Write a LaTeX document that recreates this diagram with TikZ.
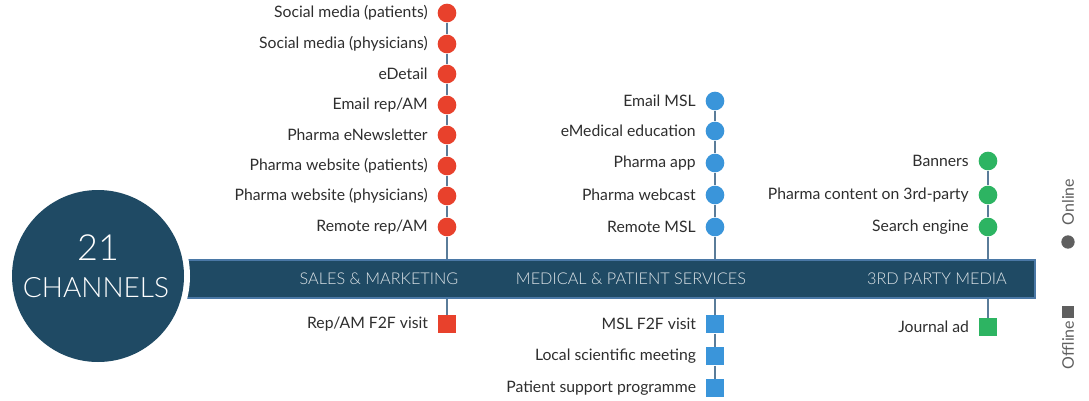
\documentclass[tikz,border=0pt]{standalone}
\usepackage{fontspec}
\setmainfont{Lato}
\newfontfamily\lightfont{Lato Light}
\definecolor{navy}{HTML}{1F4A64}
\definecolor{barline}{HTML}{4A78A6}
\definecolor{stemcol}{HTML}{5A7C99}
\definecolor{chred}{HTML}{E8412C}
\definecolor{chblue}{HTML}{3A95DA}
\definecolor{chgreen}{HTML}{2DB462}
\definecolor{txt}{HTML}{2E2E2E}
\definecolor{legcol}{HTML}{5F5F5F}
\tikzset{every picture/.style={line width=0.75pt}}
\tikzset{
  online/.style={circle, fill=#1, inner sep=0pt, minimum size=14pt},
  offline/.style={rectangle, fill=#1, inner sep=0pt, minimum size=13.5pt},
  chan/.style={font=\fontsize{11.8}{14}\selectfont, text=txt, inner sep=0.75pt},
  stem/.style={stemcol, line width=1.1pt},
  bartext/.style={font=\lightfont\fontsize{12.2}{14}\selectfont, text=white!85!navy}
}

\begin{document}
\begin{tikzpicture}[x=0.75pt,y=0.75pt,yscale=-1,xscale=1]
\useasboundingbox (0,0) rectangle (1089,400);

%Sales & marketing column
\node [online=chred, label={[chan, label distance=6pt]left:Social media (patients)}] (r1) at (447,13) {};
\node [online=chred, label={[chan, label distance=6pt]left:Social media (physicians)}] (r2) at (447,44) {};
\node [online=chred, label={[chan, label distance=6pt]left:eDetail}] (r3) at (447,74) {};
\node [online=chred, label={[chan, label distance=6pt]left:Email rep/AM}] (r4) at (447,105) {};
\node [online=chred, label={[chan, label distance=6pt]left:Pharma eNewsletter}] (r5) at (447,135) {};
\node [online=chred, label={[chan, label distance=6pt]left:Pharma website (patients)}] (r6) at (447,166) {};
\node [online=chred, label={[chan, label distance=6pt]left:Pharma website (physicians)}] (r7) at (447,196) {};
\node [online=chred, label={[chan, label distance=6pt]left:Remote rep/AM}] (r8) at (447,227) {};
\node [offline=chred, label={[chan, label distance=6pt]left:Rep/AM F2F visit}] (r9) at (447,324) {};

%Medical & patient services column
\node [online=chblue, label={[chan, label distance=6pt]left:Email MSL}] (b1) at (715,101) {};
\node [online=chblue, label={[chan, label distance=6pt]left:eMedical education}] (b2) at (715,131) {};
\node [online=chblue, label={[chan, label distance=6pt]left:Pharma app}] (b3) at (715,163) {};
\node [online=chblue, label={[chan, label distance=6pt]left:Pharma webcast}] (b4) at (715,195) {};
\node [online=chblue, label={[chan, label distance=6pt]left:Remote MSL}] (b5) at (715,227) {};
\node [offline=chblue, label={[chan, label distance=6pt]left:MSL F2F visit}] (b6) at (715,324) {};
\node [offline=chblue, label={[chan, label distance=6pt]left:Local scientific meeting}] (b7) at (715,356) {};
\node [offline=chblue, label={[chan, label distance=6pt]left:Patient support programme}] (b8) at (715,388) {};

%3rd party media column
\node [online=chgreen, label={[chan, label distance=6pt]left:Banners}] (g1) at (988,161) {};
\node [online=chgreen, label={[chan, label distance=6pt]left:Pharma content on 3rd-party}] (g2) at (988,195) {};
\node [online=chgreen, label={[chan, label distance=6pt]left:Search engine}] (g3) at (988,227) {};
\node [offline=chgreen, label={[chan, label distance=6pt]left:Journal ad}] (g4) at (988,327) {};

%Stems between markers
\draw [stem] (r1) -- (r2) -- (r3) -- (r4) -- (r5) -- (r6) -- (r7) -- (r8) -- (r9);
\draw [stem] (b1) -- (b2) -- (b3) -- (b4) -- (b5) -- (b6) -- (b7) -- (b8);
\draw [stem] (g1) -- (g2) -- (g3) -- (g4);

%Bar
\draw [fill=navy, draw=barline, line width=1pt] (150,260) rectangle (1035,298);
\node [bartext] (sales) at (379,279) {SALES \& MARKETING};
\node [bartext] (medical) at (631,279) {MEDICAL \& PATIENT SERVICES};
\node [bartext] (third) at (937,279) {3RD PARTY MEDIA};

%Shape: Circle
\fill [white] (98,276) circle [radius=92];
\node [circle, fill=navy, minimum size=129pt, inner sep=0pt] (hub) at (98,276) {};
\node [font=\lightfont\fontsize{27}{30}\selectfont, text=white] (count) at (98,248) {21};
\node [font=\lightfont\fontsize{21}{24}\selectfont, text=white] (chans) at (96,288) {CHANNELS};

%Legend
\node [rotate=90, font=\fontsize{12}{14}\selectfont, text=legcol] (onl) at (1068,202) {Online};
\node [circle, fill=legcol, inner sep=0pt, minimum size=10pt] (onmark) at (1068,242) {};
\node [rectangle, fill=legcol, inner sep=0pt, minimum size=9pt] (offmark) at (1068,312) {};
\node [rotate=90, font=\fontsize{12}{14}\selectfont, text=legcol] (offl) at (1068,345) {Offline};

\end{tikzpicture}
\end{document}
